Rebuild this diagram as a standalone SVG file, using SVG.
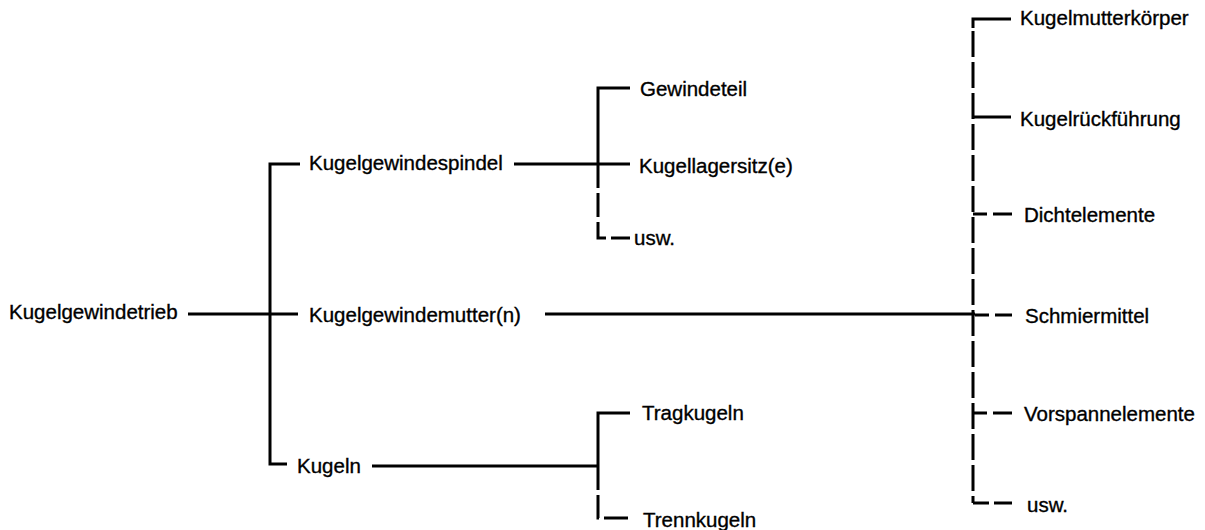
<svg xmlns="http://www.w3.org/2000/svg" width="1205" height="530" viewBox="0 0 1205 530">
<style>
text{font-family:"Liberation Sans",Arial,sans-serif;font-size:20.5px;fill:#000;stroke:#000;stroke-width:0.35}
.l{fill:none;stroke:#000;stroke-width:3}
.d{stroke-dasharray:24 5}
</style>
<rect width="1205" height="530" fill="#fff"/>
<g id="connectors">
<path class="l" d="M188,314 H298"/>
<path class="l" d="M300,164 H270 V464 H287"/>
<path class="l" d="M514,164 H630"/>
<path class="l" d="M630,88 H598 V164"/>
<path class="l d" d="M598,164 V238 H630"/>
<path class="l" d="M545,314 H975"/>
<path class="l" d="M372,466 H598"/>
<path class="l" d="M630,413 H598 V466"/>
<path class="l d" d="M598,466 V518 H630"/>
<path class="l" d="M1011,19 H973 V28"/>
<path class="l" style="stroke-dasharray:26 5" d="M973,31 V503"/>
<path class="l" d="M973,117 H1011"/>
<path class="l" style="stroke-dasharray:14 6 19" d="M973,214 H1012"/>
<path class="l" style="stroke-dasharray:14 6 19" d="M975,315 H1012"/>
<path class="l" style="stroke-dasharray:14 6 19" d="M973,413 H1012"/>
<path class="l" style="stroke-dasharray:16 5 19" d="M973,503 V503 H1012"/>
</g>
<g id="n-kugelgewindetrieb"><text x="9" y="319">Kugelgewindetrieb</text></g>
<g id="n-spindel"><text x="309" y="170">Kugelgewindespindel</text></g>
<g id="n-mutter"><text x="309" y="322">Kugelgewindemutter(n)</text></g>
<g id="n-kugeln"><text x="297" y="473">Kugeln</text></g>
<g id="n-gewindeteil"><text x="640" y="96">Gewindeteil</text></g>
<g id="n-kugellagersitz"><text x="639" y="173">Kugellagersitz(e)</text></g>
<g id="n-usw1"><text x="634" y="245">usw.</text></g>
<g id="n-tragkugeln"><text x="642" y="420">Tragkugeln</text></g>
<g id="n-trennkugeln"><text x="643" y="527">Trennkugeln</text></g>
<g id="n-kugelmutterkoerper"><text x="1020" y="25">Kugelmutterkörper</text></g>
<g id="n-kugelrueckfuehrung"><text x="1020" y="126">Kugelrückführung</text></g>
<g id="n-dichtelemente"><text x="1024" y="222">Dichtelemente</text></g>
<g id="n-schmiermittel"><text x="1025" y="323">Schmiermittel</text></g>
<g id="n-vorspannelemente"><text x="1024" y="421">Vorspannelemente</text></g>
<g id="n-usw2"><text x="1027" y="512">usw.</text></g>
</svg>
